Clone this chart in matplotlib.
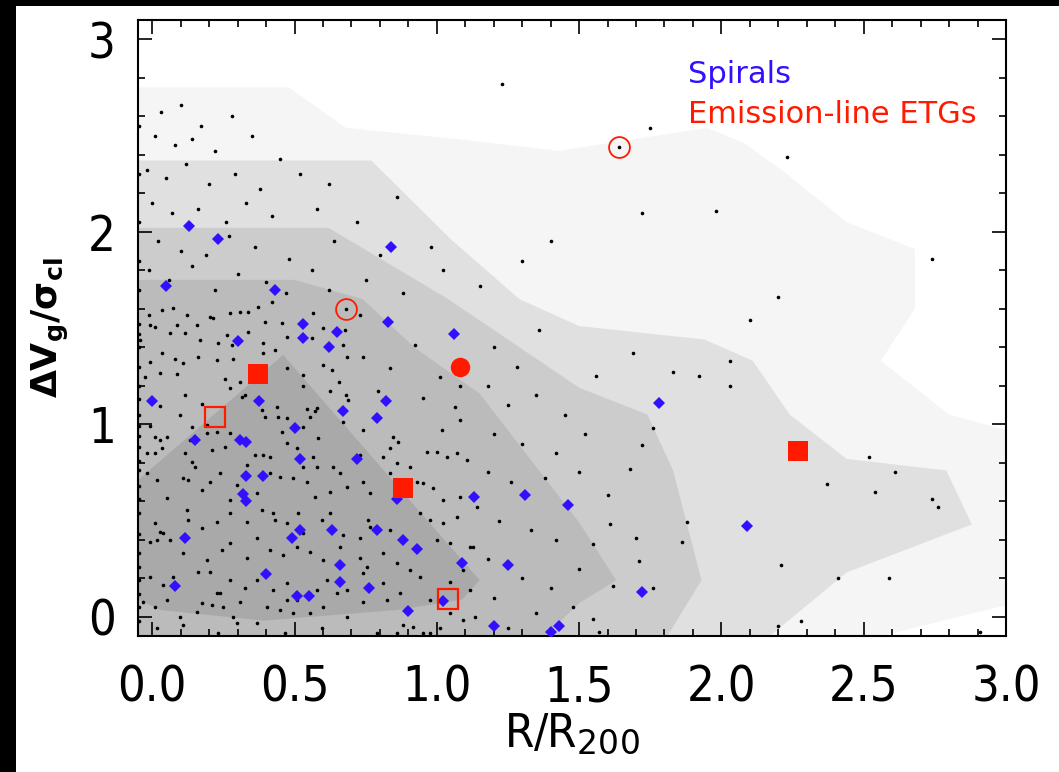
import numpy as np
import matplotlib
matplotlib.use("Agg")
import matplotlib.pyplot as plt
from matplotlib.patches import Rectangle, Polygon

# contour bands (lightest -> darkest), vertices in data units
band_colors = ['#f5f5f5', '#e0e0e0', '#cccccc', '#bbbbbb', '#a9a9a9']
band1 = [(-0.05, 2.75), (0.48, 2.75), (0.68, 2.54), (1.08, 2.48), (1.43, 2.42), (1.69, 2.48),
         (1.95, 2.54), (2.08, 2.46), (2.23, 2.30), (2.44, 2.05), (2.68, 1.91), (2.68, 1.60),
         (2.56, 1.33), (2.80, 1.05), (3.0, 0.97), (3.0, 0.06), (2.56, -0.1), (-0.05, -0.1)]
band2 = [(-0.05, 2.37), (0.77, 2.37), (1.05, 1.96), (1.29, 1.65), (1.50, 1.51), (1.94, 1.44),
         (2.11, 1.33), (2.24, 1.05), (2.44, 0.82), (2.79, 0.76), (2.88, 0.48), (2.44, 0.23),
         (2.17, -0.1), (-0.05, -0.1)]
band3 = [(-0.05, 2.02), (0.62, 2.02), (1.04, 1.65), (1.50, 1.19), (1.74, 1.05), (1.83, 0.76),
         (1.93, 0.19), (1.81, -0.1), (-0.05, -0.1)]
band4 = [(-0.05, 1.75), (0.50, 1.75), (0.74, 1.65), (0.92, 1.40), (1.15, 1.16), (1.50, 0.49),
         (1.63, 0.19), (1.50, 0.07), (1.38, -0.1), (-0.05, -0.1)]
band5 = [(-0.05, 0.71), (0.46, 1.36), (1.15, 0.19), (1.09, 0.09), (0.86, 0.035), (0.39, -0.02),
         (0.03, 0.035), (-0.05, 0.09)]
bands = [band1, band2, band3, band4, band5]

# cluster galaxies (black dots): outer sparse part
out_x = [1.23, 1.75, 2.23, 1.72, 1.98, 1.64, 0.68, 2.74, 2.20, 2.10, 1.69, 2.03, 1.56, 1.83, 1.92, 2.03,
         1.76, 1.72, 1.68, 1.60, 2.52, 2.61, 2.37, 2.54, 2.74, 2.76, 1.61, 1.88, 1.70, 1.86, 1.71,
         2.21, 2.41, 2.59, 1.62, 1.76, 1.55, 2.20, 2.28, 2.91]
out_y = [2.77, 2.54, 2.39, 2.10, 2.11, 2.44, 1.60, 1.86, 1.66, 1.54, 1.37, 1.33, 1.25, 1.27, 1.25, 1.20,
         0.98, 0.89, 0.77, 0.63, 0.83, 0.75, 0.69, 0.65, 0.61, 0.57, 0.48, 0.49, 0.41, 0.39, 0.29,
         0.27, 0.20, 0.20, 0.16, 0.15, -0.01, -0.05, -0.02, -0.08]

# cluster galaxies: upper-left part (dV > 1.65)
upper = [
    (0.03, 2.62), (0.10, 2.66), (0.17, 2.55), (0.28, 2.60),
    (0.01, 2.50), (0.08, 2.45), (0.14, 2.48), (0.22, 2.42), (0.35, 2.50), (0.45, 2.38),
    (-0.02, 2.32), (0.05, 2.28), (0.12, 2.35), (0.20, 2.25), (0.29, 2.30), (0.38, 2.22), (0.52, 2.30),
    (0.62, 2.25),
    (0.00, 2.15), (0.07, 2.10), (0.16, 2.12), (0.26, 2.05), (0.33, 2.15), (0.42, 2.08), (0.58, 2.12),
    (0.72, 2.05), (0.86, 2.18),
    (0.02, 1.95), (0.10, 1.90), (0.19, 1.88), (0.27, 1.98), (0.36, 1.92), (0.48, 1.86), (0.64, 1.95),
    (0.80, 1.88), (0.98, 1.92),
    (-0.01, 1.80), (0.06, 1.75), (0.14, 1.82), (0.22, 1.70), (0.30, 1.78), (0.40, 1.74), (0.47, 1.68),
    (0.56, 1.80), (0.62, 1.70), (0.75, 1.75), (0.88, 1.68), (1.02, 1.80), (1.15, 1.72), (1.30, 1.85),
    (1.40, 1.95),
]

# cluster galaxies: middle part (1.15 < R/R200 < 1.6)
middle = [
    (1.20, 1.40), (1.28, 1.30), (1.36, 1.49), (1.18, 1.20), (1.25, 1.10), (1.35, 1.15), (1.45, 1.05),
    (1.20, 0.95), (1.30, 0.90), (1.42, 0.85), (1.52, 0.95), (1.18, 0.75), (1.26, 0.70), (1.38, 0.72),
    (1.50, 0.75), (1.22, 0.50), (1.33, 0.45), (1.42, 0.40), (1.55, 0.38), (1.18, 0.30), (1.30, 0.20),
    (1.40, 0.15), (1.50, 0.25), (1.20, 0.10), (1.35, 0.02), (1.48, 0.05), (1.25, -0.06), (1.57, -0.08),
]

# cluster galaxies: dense core (R/R200 < 1.15, dV < 1.65)
core = [
    (0.033, 1.594), (0.074, 1.602), (0.121, 1.568), (0.203, 1.559), (0.273, 1.576), (0.309, 1.585),
    (0.338, 1.585), (0.373, 1.611), (0.420, 1.637), (0.566, 1.576), (-0.01, 1.568), (0.086, 1.516),
    (0.156, 1.516), (0.215, 1.550), (0.396, 1.533), (0.455, 1.528), (0.730, 1.568),
    (-0.008, 1.516), (0.010, 1.507), (0.063, 1.472), (0.115, 1.472), (0.168, 1.438), (0.232, 1.420),
    (0.262, 1.464), (0.279, 1.412), (0.338, 1.481), (0.390, 1.420), (0.431, 1.386), (0.472, 1.455),
    (0.560, 1.446), (0.601, 1.498), (0.677, 1.490), (0.672, 1.412), (0.923, 1.412), (-0.043, 1.438),
    (-0.008, 1.325), (0.033, 1.368), (0.080, 1.337), (0.109, 1.316), (0.162, 1.351), (0.227, 1.334),
    (0.285, 1.337), (0.390, 1.368), (0.472, 1.291), (0.683, 1.348), (0.742, 1.348), (0.601, 1.308),
    (-0.025, 1.247), (0.027, 1.268), (0.086, 1.261), (0.531, 1.256), (0.531, 1.199), (0.631, 1.282),
    (1.011, 1.244), (0.836, 1.291),
    (0.256, 1.233), (0.309, 1.218), (0.273, 1.187), (0.658, 1.221), (0.681, 1.152), (0.689, 1.126),
    (0.795, 1.175), (0.953, 1.135), (0.115, 1.152), (0.174, 1.105), (0.027, 1.095), (0.098, 1.048),
    (0.314, 1.143), (0.326, 1.154), (0.437, 1.091), (0.543, 1.079), (0.572, 1.071), (0.625, 1.175),
    (1.064, 1.088), (1.082, 1.199),
    (-0.008, 0.991), (0.010, 0.936), (0.027, 0.918), (0.051, 0.936), (0.139, 0.987), (0.191, 0.996),
    (0.273, 0.953), (0.385, 1.074), (0.443, 1.039), (0.472, 1.031), (0.554, 1.036), (0.578, 1.083),
    (0.672, 1.013), (0.742, 0.970), (0.847, 0.936), (0.865, 0.910), (1.017, 0.970), (1.082, 1.022),
    (1.105, 0.814), (0.133, 0.918), (0.191, 0.953), (0.227, 0.962), (0.455, 0.962), (0.584, 0.927),
    (0.531, 0.987), (0.396, 1.039),
    (-0.019, 0.849), (0.010, 0.849), (0.033, 0.875), (0.115, 0.849), (0.139, 0.806), (0.150, 0.780),
    (0.209, 0.866), (0.256, 0.884), (0.332, 0.788), (0.361, 0.840), (0.390, 0.840), (0.414, 0.832),
    (0.472, 0.901), (0.508, 0.875), (0.531, 0.780), (0.566, 0.832), (0.578, 0.780), (0.636, 0.780),
    (0.660, 0.745), (0.730, 0.840), (0.812, 0.832), (0.836, 0.875), (0.859, 0.797), (0.906, 0.780),
    (0.964, 0.858), (1.000, 0.858), (1.035, 0.832), (1.070, 0.849),
    (-0.019, 0.745), (0.016, 0.710), (0.051, 0.615), (0.109, 0.719), (0.127, 0.710), (0.174, 0.658),
    (0.203, 0.702), (0.238, 0.745), (0.273, 0.607), (0.297, 0.684), (0.367, 0.641), (0.414, 0.745),
    (0.449, 0.728), (0.496, 0.719), (0.543, 0.702), (0.572, 0.624), (0.625, 0.650), (0.683, 0.676),
    (0.742, 0.702), (0.765, 0.641), (0.836, 0.745), (0.929, 0.702), (0.953, 0.693), (0.988, 0.667),
    (1.023, 0.607), (1.082, 0.624), (1.140, 0.572),
    (0.010, 0.485), (0.027, 0.442), (0.039, 0.433), (0.121, 0.555), (0.127, 0.503), (0.174, 0.459),
    (0.227, 0.494), (0.273, 0.537), (0.332, 0.494), (0.385, 0.555), (0.426, 0.537), (0.431, 0.503),
    (0.472, 0.485), (0.513, 0.537), (0.531, 0.433), (0.595, 0.503), (0.625, 0.537), (0.672, 0.425),
    (0.730, 0.407), (0.759, 0.503), (0.765, 0.468), (0.836, 0.451), (0.941, 0.537), (0.976, 0.503),
    (1.023, 0.485), (1.070, 0.520), (1.128, 0.364),
    (-0.008, 0.390), (0.016, 0.399), (0.063, 0.399), (0.109, 0.329), (0.191, 0.295), (0.244, 0.347),
    (0.273, 0.381), (0.332, 0.303), (0.367, 0.407), (0.414, 0.347), (0.461, 0.321), (0.508, 0.364),
    (0.554, 0.338), (0.601, 0.295), (0.660, 0.364), (0.730, 0.303), (0.754, 0.260), (0.812, 0.329),
    (0.859, 0.277), (0.906, 0.243), (1.000, 0.399), (1.046, 0.381), (1.117, 0.364), (1.093, 0.243),
    (-0.008, 0.208), (0.039, 0.165), (0.074, 0.208), (0.162, 0.234), (0.203, 0.234), (0.227, 0.122),
    (0.238, 0.122), (0.273, 0.191), (0.326, 0.148), (0.367, 0.191), (0.426, 0.139), (0.472, 0.174),
    (0.508, 0.087), (0.578, 0.139), (0.613, 0.191), (0.648, 0.122), (0.683, 0.139), (0.742, 0.226),
    (0.812, 0.174), (0.871, 0.122), (0.941, 0.208), (0.976, 0.087), (1.046, 0.182), (1.117, 0.139),
    (-0.031, 0.078), (0.010, 0.052), (0.051, 0.087), (0.098, 0.000), (0.156, 0.026), (0.174, 0.070),
    (0.209, 0.061), (0.250, 0.052), (0.285, 0.000), (0.309, 0.078), (0.367, -0.034), (0.402, 0.052),
    (0.449, 0.035), (0.472, 0.087), (0.496, 0.018), (0.554, 0.018), (0.601, 0.052), (0.683, 0.000),
    (0.742, 0.078), (0.789, -0.086), (0.824, 0.087), (0.859, -0.086), (0.918, -0.052), (0.953, -0.086),
    (1.011, -0.060), (1.046, 0.018), (1.093, -0.017), (1.134, 0.000),
    (0.016, -0.060), (0.109, -0.043), (0.232, -0.086), (0.297, -0.034), (0.467, -0.086), (0.595, -0.060),
    (0.882, -0.043), (0.976, -0.086),
]
# galaxies sitting on R/R200 ~ 0 (the left edge)
edge_y = [2.55, 2.30, 2.05, 1.85, 1.70, 1.52, 1.47, 1.40, 1.30, 1.20, 1.13, 1.05, 0.99, 0.94, 0.88,
          0.81, 0.76, 0.68, 0.61, 0.54, 0.43, 0.33, 0.26, 0.19, 0.12, 0.05, -0.02]
pts = upper + middle + core
gal_x = out_x + [p[0] for p in pts] + [-0.045] * len(edge_y)
gal_y = out_y + [p[1] for p in pts] + edge_y

# spirals (blue diamonds)
sp_x = [0.13, 0.23, 0.43, 0.05, 0.30, 0.53, 0.53, 0.65, 0.62, 0.83, 1.06, 0.84, 0.00, 0.375, 0.31,
        0.33, 0.67, 0.82, 0.79, 0.50, 0.15, 0.52, 0.72, 0.33, 0.39, 0.32, 0.33, 0.86, 1.13, 0.115,
        0.49, 0.52, 0.63, 0.79, 0.88, 0.93, 1.09, 0.66, 0.66, 0.76, 0.40, 0.08, 0.51, 0.55, 1.02,
        0.90, 1.31, 1.46, 1.25, 1.20, 1.43, 1.40, 1.78, 2.09, 1.72]
sp_y = [2.03, 1.96, 1.70, 1.72, 1.43, 1.52, 1.45, 1.48, 1.40, 1.53, 1.47, 1.92, 1.12, 1.12, 0.92,
        0.91, 1.07, 1.12, 1.03, 0.98, 0.92, 0.82, 0.82, 0.73, 0.73, 0.64, 0.60, 0.61, 0.62, 0.41,
        0.41, 0.45, 0.45, 0.45, 0.40, 0.35, 0.28, 0.27, 0.18, 0.15, 0.22, 0.16, 0.11, 0.11, 0.08,
        0.03, 0.63, 0.58, 0.27, -0.05, -0.05, -0.08, 1.11, 0.47, 0.13]

# emission-line ETGs (red), by symbol
etg_fsq_x = [0.37, 0.88, 2.27]
etg_fsq_y = [1.26, 0.67, 0.86]
etg_osq_x = [0.22, 1.04]
etg_osq_y = [1.04, 0.09]
etg_fci_x = [1.08]
etg_fci_y = [1.30]
etg_oci_x = [1.64, 0.68]
etg_oci_y = [2.44, 1.60]

red = '#ff1a00'
blue = '#3010ff'

fig = plt.figure(figsize=(10.59, 7.72), dpi=100, facecolor='black')
fig.patches.append(Rectangle((16 / 1059, 0), 1, 1 - 6 / 772, transform=fig.transFigure,
                             facecolor='white', edgecolor='none', zorder=-1))
ax = fig.add_axes([138 / 1059, 136 / 772, 868 / 1059, 616 / 772])
ax.set_xlim(-0.05, 3.0)
ax.set_ylim(-0.1, 3.1)

for b, c in zip(bands, band_colors):
    ax.add_patch(Polygon(b, closed=True, facecolor=c, edgecolor='none', zorder=1))

ax.plot(gal_x, gal_y, 'o', color='black', ms=2.6, mew=0, zorder=3)
ax.plot(sp_x, sp_y, 'D', color=blue, ms=6, mew=0, zorder=4)
ax.plot(etg_fsq_x, etg_fsq_y, 's', color=red, ms=14, mew=0, zorder=5)
ax.plot(etg_osq_x, etg_osq_y, 's', mfc='none', mec=red, ms=15, mew=1.6, zorder=5)
ax.plot(etg_fci_x, etg_fci_y, 'o', color=red, ms=14, mew=0, zorder=5)
ax.plot(etg_oci_x, etg_oci_y, 'o', mfc='none', mec=red, ms=15, mew=1.3, zorder=5)

ax.set_xticks(np.arange(0, 3.01, 0.5))
ax.set_xticks(np.arange(0, 3.01, 0.1), minor=True)
ax.set_yticks([0, 1, 2, 3])
ax.set_yticks(np.arange(0, 3.01, 0.2), minor=True)
ax.set_xticklabels(['0.0', '0.5', '1.0', '1.5', '2.0', '2.5', '3.0'])
ax.set_yticklabels(['0', '1', '2', '3'])
ax.tick_params(which='both', direction='in', top=True, right=True, width=1.2)
ax.tick_params(which='major', length=10)
ax.tick_params(which='minor', length=5)
ax.tick_params(axis='x', which='major', pad=20)
ax.tick_params(axis='y', which='major', pad=16)
for lab in ax.get_xticklabels() + ax.get_yticklabels():
    lab.set_fontsize(35)
    lab.set_fontstretch('condensed')
for s in ax.spines.values():
    s.set_linewidth(1.5)

ax.set_xlabel('R/R$_{200}$', fontsize=34, fontstretch='condensed', labelpad=0)
ax.set_ylabel(r'$\mathbf{\Delta}$V$_\mathbf{g}$/$\mathbf{\sigma}_\mathbf{cl}$', fontsize=26,
              fontweight='bold', labelpad=12)

ax.text(0.634, 0.898, 'Spirals', color=blue, fontsize=22, transform=ax.transAxes, zorder=6)
ax.text(0.634, 0.833, 'Emission-line ETGs', color=red, fontsize=22, transform=ax.transAxes, zorder=6)

fig.savefig('out.png', dpi=100, facecolor=fig.get_facecolor())
